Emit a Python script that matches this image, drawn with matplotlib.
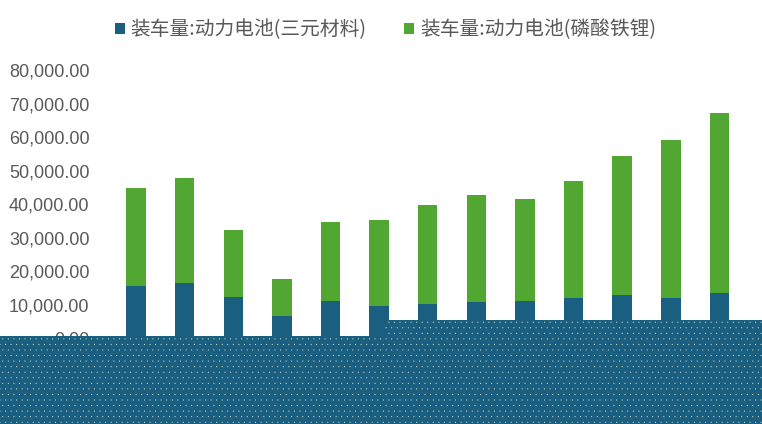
import matplotlib
matplotlib.use("Agg")
import matplotlib.pyplot as plt
from matplotlib.patches import Rectangle
from matplotlib.ticker import FuncFormatter
import numpy as np

plt.rcParams['font.family'] = ['Liberation Sans', 'Noto Sans CJK SC', 'DejaVu Sans']
plt.rcParams['hatch.linewidth'] = 0.0

# 月份 (x 轴标签被遮挡, 按数值推断)
months = ["2023-11", "2023-12", "2024-01", "2024-02", "2024-03", "2024-04", "2024-05",
          "2024-06", "2024-07", "2024-08", "2024-09", "2024-10", "2024-11"]
# 装车量 (MWh)
sanyuan = [15600, 16500, 12300, 6650, 11100, 9630, 10200, 10800, 11100, 12000, 12900, 12000, 13500]
linsuan = [29200, 31300, 20000, 11050, 23600, 25670, 29500, 31900, 30400, 34900, 41500, 47100, 53700]

label_a = "装车量:动力电池(三元材料)"
label_b = "装车量:动力电池(磷酸铁锂)"

c_blue = "#1b5f80"
c_green = "#52a732"
c_text = "#595959"

fig = plt.figure(figsize=(7.62, 4.24), dpi=100)
ax = fig.add_axes([0.1466, 0.2021, 0.8294, 0.6328])

x = np.arange(len(months))
ax.bar(x, sanyuan, width=0.4, color=c_blue, label=label_a)
ax.bar(x, linsuan, width=0.4, bottom=sanyuan, color=c_green, label=label_b)

ax.set_xlim(-0.5, len(months) - 0.5)
ax.set_ylim(0, 80000)
ax.set_yticks(np.arange(0, 80001, 10000))
ax.yaxis.set_major_formatter(FuncFormatter(lambda v, p: f"{v:,.2f}"))
ax.set_xticks(x)
ax.set_xticklabels(months)
ax.tick_params(axis='both', length=0, labelsize=13, labelcolor=c_text)
ax.tick_params(axis='x', labelsize=9)
ax.tick_params(axis='y', pad=16)
for s in ax.spines.values():
    s.set_visible(False)

leg = fig.legend(loc='center', bbox_to_anchor=(0.506, 0.93), ncol=2, frameon=False,
                 fontsize=14.2, handlelength=0.5, handleheight=0.5, handletextpad=0.3,
                 columnspacing=1.9)
for t in leg.get_texts():
    t.set_color(c_text)
    t.set_family(['Noto Sans CJK SC', 'DejaVu Sans'])

# 底部遮挡区域 (点状)
W, H = 762.0, 424.0
for (x0, y0) in [(0, 336), (385, 320)]:
    fig.patches.append(Rectangle((x0 / W, 0), 1 - x0 / W if x0 else 385 / W + 0.001,
                                 (H - y0) / H, transform=fig.transFigure,
                                 facecolor=c_blue, edgecolor="#e8ecd0", hatch='...',
                                 linewidth=0, zorder=5))

fig.savefig("out.png", dpi=100)
